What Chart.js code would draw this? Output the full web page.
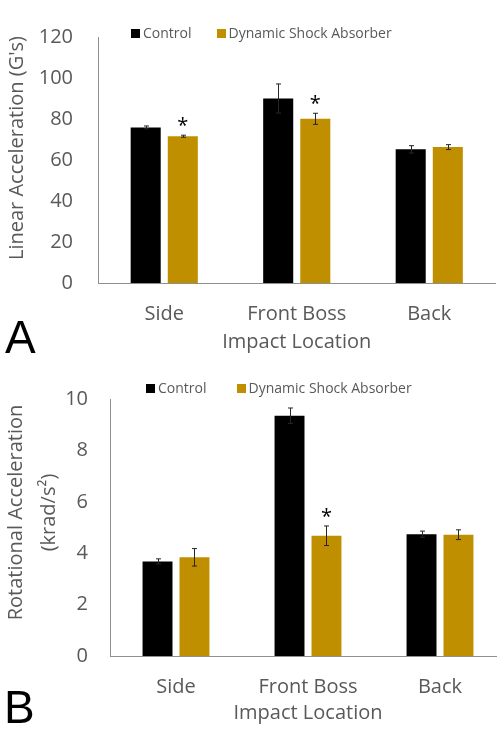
<!DOCTYPE html>
<html><head><meta charset="utf-8">
<script src="https://cdn.jsdelivr.net/npm/chart.js@4.4.1/dist/chart.umd.min.js"></script>
<style>
html,body{margin:0;padding:0;background:#fff;overflow:hidden;width:497px;height:729px;}
#wrap{position:relative;width:497px;height:729px;overflow:hidden;}
canvas{position:absolute;left:0;}
#cA{top:0;} #cB{top:365px;}
.legend{position:absolute;display:flex;align-items:center;font-family:'Open Sans',sans-serif;font-size:14px;color:#595959;line-height:14px;white-space:nowrap;}
.sw{display:inline-block;width:9px;height:9px;margin-right:3px;}
.panel{position:absolute;font-family:'Liberation Sans',Arial,sans-serif;font-size:46px;color:#000;line-height:46px;}
</style></head>
<body><div id="wrap">
<canvas id="cA" width="497" height="365"></canvas>
<canvas id="cB" width="512" height="364"></canvas>
<div class="legend" id="legA" style="left:131px;top:26px"></div>
<div class="legend" id="legB" style="left:146px;top:381px"></div>
<div class="panel" style="left:5px;top:314px">A</div>
<div class="panel" style="left:4px;top:684px">B</div>
</div>
<script>
// ---- data ----
const categories = ['Side', 'Front Boss', 'Back'];
const seriesNames = ['Control', 'Dynamic Shock Absorber'];
const seriesColors = ['#000000', '#BF8F00'];

const linearControl = [75.9, 90.0, 65.2];
const linearControlErr = [0.7, 7.1, 1.8];
const linearDSA = [71.6, 80.1, 66.3];
const linearDSAErr = [0.5, 2.7, 1.2];
const linearDSASig = [true, true, false];
const linearTicks = [0, 20, 40, 60, 80, 100, 120];

const rotControl = [3.68, 9.35, 4.74];
const rotControlErr = [0.10, 0.30, 0.12];
const rotDSA = [3.84, 4.68, 4.72];
const rotDSAErr = [0.34, 0.38, 0.19];
const rotDSASig = [false, true, false];
const rotTicks = [0, 2, 4, 6, 8, 10];

const FONT = "'Open Sans', sans-serif";
const GREY = '#595959';
const AXIS = '#8f8f8f';

// ---- error bars + significance markers ----
const errorBars = {
  id: 'errorBars',
  afterDatasetsDraw(chart) {
    const ctx = chart.ctx, y = chart.scales.y;
    chart.data.datasets.forEach((ds, i) => {
      const meta = chart.getDatasetMeta(i);
      meta.data.forEach((bar, j) => {
        const v = ds.data[j], e = ds.errors[j];
        const yt = y.getPixelForValue(v + e), yb = y.getPixelForValue(v - e);
        const x = Math.round(bar.x) + 0.5;
        ctx.save();
        ctx.strokeStyle = '#262626';
        ctx.lineWidth = 1;
        ctx.beginPath();
        ctx.moveTo(x, yt); ctx.lineTo(x, yb);
        ctx.moveTo(x - 2.5, yt); ctx.lineTo(x + 2.5, yt);
        ctx.moveTo(x - 2.5, yb); ctx.lineTo(x + 2.5, yb);
        ctx.stroke();
        if (ds.sig && ds.sig[j]) {
          ctx.fillStyle = '#000';
          ctx.font = "20px " + FONT;
          ctx.textAlign = 'center';
          ctx.textBaseline = 'alphabetic';
          ctx.fillText('*', bar.x, yt - 3);
        }
        ctx.restore();
      });
    });
  }
};

// shift the y-axis title along the axis (the original centres it slightly above the plot middle)
const titleShift = {
  id: 'titleShift',
  beforeDraw(chart, args, opts) {
    const s = chart.scales.y;
    if (s && !s._shiftPatched) {
      const orig = s.drawTitle;
      s.drawTitle = function () {
        this.ctx.save();
        this.ctx.translate(0, -(opts.dy || 0));
        orig.call(this);
        this.ctx.restore();
      };
      s._shiftPatched = true;
    }
  }
};

function buildLegend(el, gap) {
  seriesNames.forEach((n, i) => {
    const sw = document.createElement('span');
    sw.className = 'sw';
    sw.style.background = seriesColors[i];
    const t = document.createElement('span');
    t.textContent = n;
    if (i > 0) sw.style.marginLeft = gap + 'px';
    el.appendChild(sw); el.appendChild(t);
  });
}
buildLegend(document.getElementById('legA'), 25);
buildLegend(document.getElementById('legB'), 30);

function makeChart(id, ctrl, ctrlErr, dsa, dsaErr, dsaSig, ticks, yTitle, yTitleFont, yTitlePad, yWidth, xHeight, xTitlePadBottom, yPad, layoutPad, titleDy) {
  return new Chart(document.getElementById(id), {
    type: 'bar',
    data: {
      labels: categories,
      datasets: [
        { label: seriesNames[0], data: ctrl, errors: ctrlErr, backgroundColor: seriesColors[0],
          categoryPercentage: 0.56, barPercentage: 0.81 },
        { label: seriesNames[1], data: dsa, errors: dsaErr, sig: dsaSig, backgroundColor: seriesColors[1],
          categoryPercentage: 0.56, barPercentage: 0.81 }
      ]
    },
    options: {
      responsive: false,
      animation: false,
      layout: { padding: layoutPad },
      plugins: { legend: { display: false }, tooltip: { enabled: false }, titleShift: { dy: titleDy } },
      scales: {
        x: {
          grid: { display: false, drawTicks: false },
          border: { display: true, color: AXIS, width: 1 },
          ticks: { font: { family: FONT, size: 20 }, color: GREY, padding: 19 },
          title: { display: true, text: 'Impact Location', font: { family: FONT, size: 20 }, color: GREY,
                   padding: { top: 0, bottom: xTitlePadBottom } },
          afterFit(s) { s.height = xHeight; }
        },
        y: {
          min: ticks[0], max: ticks[ticks.length - 1],
          afterBuildTicks(s) { s.ticks = ticks.map(v => ({ value: v })); },
          grid: { display: false, drawTicks: false },
          border: { display: true, color: AXIS, width: 1 },
          ticks: { font: { family: FONT, size: 20 }, color: GREY, padding: yPad },
          title: { display: true, text: yTitle, font: yTitleFont, color: GREY, padding: yTitlePad },
          afterFit(s) { s.width = yWidth; }
        }
      }
    },
    plugins: [errorBars, titleShift]
  });
}

const chartA = makeChart('cA', linearControl, linearControlErr, linearDSA, linearDSAErr, linearDSASig, linearTicks,
  "Linear Acceleration (G's)", { family: FONT, size: 20 }, { top: 5, bottom: 0 },
  98, 82, 11, 25, { top: 15, right: 1.5, left: 0, bottom: 0 }, 12);

const chartB = makeChart('cB', rotControl, rotControlErr, rotDSA, rotDSAErr, rotDSASig, rotTicks,
  ['Rotational Acceleration', '(krad/s²)'], { family: FONT, size: 20, lineHeight: '33px' }, { top: 0, bottom: 0 },
  110, 73, 4, 22, { top: 31, right: 6, left: 0, bottom: 0 }, 15);
</script>
</body></html>
